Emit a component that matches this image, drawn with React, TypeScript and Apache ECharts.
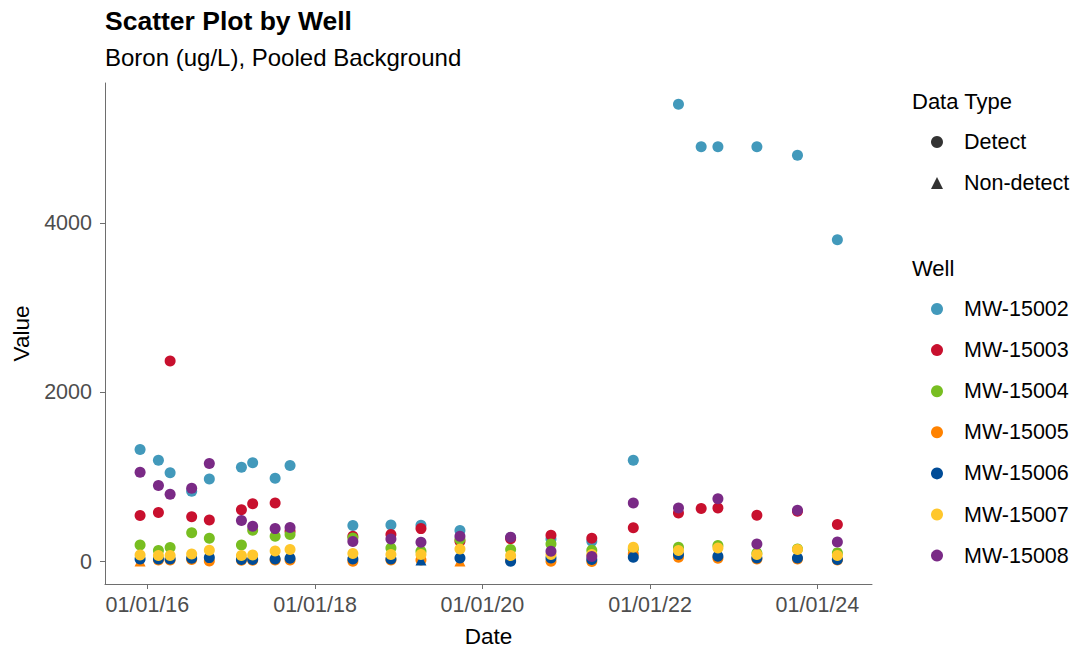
import React, { useEffect, useRef } from 'react';
import * as echarts from 'echarts';

const FONT = '"Liberation Sans", Arial, sans-serif';

const dates = [
  '2015-11-30', '2016-02-18', '2016-04-09', '2016-07-12', '2016-09-27',
  '2017-02-14', '2017-04-04', '2017-07-11', '2017-09-14', '2018-06-15',
  '2018-11-28', '2019-04-08', '2019-09-25', '2020-05-03', '2020-10-26',
  '2021-04-22', '2021-10-20', '2022-05-05', '2022-08-12', '2022-10-24',
  '2023-04-12', '2023-10-06', '2024-03-28',
];

const wells = ['MW-15002', 'MW-15003', 'MW-15004', 'MW-15005', 'MW-15006', 'MW-15007', 'MW-15008'];
const wellColors = ['#4299BB', '#C8102E', '#78BE21', '#FF8200', '#004C97', '#FFC72C', '#7A2A86'];

const mw15002 = [1325, 1199, 1050, 832, 978, 1116, 1168, 986, 1136, 426, 434, 430, 367, 285, 268, 240, 1199, 5410, 4905, 4905, 4905, 4805, 3807];
const mw15003 = [544, 580, 2371, 529, 493, 612, 683, 694, 359, 300, 320, 390, 240, 270, 312, 276, 399, 576, 627, 635, 548, 595, 438];
const mw15004 = [197, 130, 166, 340, 276, 197, 371, 300, 320, 280, 162, 122, 260, 142, 209, 134, 150, 170, null, 189, 100, 150, 103];
const mw15005 = [8, 20, 20, 25, 8, 15, 15, 20, 20, 5, 20, 20, 8, 15, 5, 2, 91, 52, null, 40, 30, 30, 20];
const mw15006 = [32, 32, 32, 39, 47, 24, 24, 32, 39, 32, 32, 20, 43, 5, 43, 24, 51, 83, null, 63, 43, 43, 24];
const mw15007 = [79, 71, 71, 91, 134, 71, 79, 126, 142, 95, 83, 83, 150, 71, 83, 83, 170, 130, null, 162, 83, 142, 71];
const mw15008 = [1057, 899, 797, 868, 1160, 485, 418, 390, 402, 237, 268, 229, 300, 288, 122, 59, 694, 635, null, 742, 209, 607, 233];

const wellValues = [mw15002, mw15003, mw15004, mw15005, mw15006, mw15007, mw15008];

// indices (into dates) of non-detect results, per well
const nonDetects: Record<string, number[]> = {
  'MW-15005': [0, 12],
  'MW-15006': [11],
};

const dataTypes = ['Detect', 'Non-detect'];
const xTickDates = ['2016-01-01', '2018-01-01', '2020-01-01', '2022-01-01', '2024-01-01'];
const yTickValues = [0, 2000, 4000];

const toTime = (s: string) => new Date(s + 'T00:00:00').getTime();
const pad2 = (n: number) => (n < 10 ? '0' + n : '' + n);
const fmtDate = (t: number) => {
  const d = new Date(t);
  return pad2(d.getMonth() + 1) + '/' + pad2(d.getDate()) + '/' + pad2(d.getFullYear() % 100);
};

export default function App() {
  const ref = useRef<HTMLDivElement>(null);

  useEffect(() => {
    if (!ref.current) return;
    const chart = echarts.init(ref.current, null, { renderer: 'svg' });

    const wellSeries = wells.map((w, i) => {
      const nd = nonDetects[w] || [];
      const data: any[] = [];
      wellValues[i].forEach((v, j) => {
        if (v === null || v === undefined) return;
        data.push({ value: [toTime(dates[j]), v], symbol: nd.includes(j) ? 'triangle' : 'circle' });
      });
      return {
        type: 'scatter',
        name: w,
        symbolSize: 11,
        itemStyle: { color: wellColors[i], opacity: 1 },
        emphasis: { disabled: true },
        data,
      };
    });

    const dummySeries = dataTypes.map((t, i) => ({
      type: 'scatter',
      name: t,
      symbol: i === 0 ? 'circle' : 'triangle',
      itemStyle: { color: '#000' },
      data: [],
    }));

    const legendText = {
      rich: {
        t: { fontSize: 21.5, fontFamily: FONT, color: '#000', padding: [0, 0, 0, 16], lineHeight: 24 },
      },
    };

    const axisLineStyle = { color: '#6e6e6e', width: 1 };

    chart.setOption({
      animation: false,
      backgroundColor: '#ffffff',
      textStyle: { fontFamily: FONT },
      grid: { left: 105, right: 204, top: 83, bottom: 70, containLabel: false },
      xAxis: {
        type: 'value',
        min: toTime('2015-06-30'),
        max: toTime('2024-08-26'),
        name: 'Date',
        nameLocation: 'middle',
        nameGap: 41,
        nameTextStyle: { fontSize: 22.5, color: '#000', fontFamily: FONT },
        splitLine: { show: false },
        axisLine: { show: true, onZero: false, lineStyle: axisLineStyle },
        axisTick: { show: true, length: 5, lineStyle: axisLineStyle, customValues: xTickDates.map(toTime) },
        axisLabel: {
          fontSize: 21.5,
          color: '#4d4d4d',
          fontFamily: FONT,
          margin: 10,
          customValues: xTickDates.map(toTime),
          formatter: (v: number) => fmtDate(v),
        },
      },
      yAxis: {
        type: 'value',
        min: -265,
        max: 5660,
        name: 'Value',
        nameLocation: 'middle',
        nameGap: 72,
        nameTextStyle: { fontSize: 22.5, color: '#000', fontFamily: FONT },
        splitLine: { show: false },
        axisLine: { show: true, onZero: false, lineStyle: axisLineStyle },
        axisTick: { show: true, length: 5, lineStyle: axisLineStyle, customValues: yTickValues },
        axisLabel: {
          fontSize: 21.5,
          color: '#4d4d4d',
          fontFamily: FONT,
          margin: 13,
          customValues: yTickValues,
          formatter: (v: number) => String(v),
        },
      },
      legend: [
        {
          data: dataTypes.map((t, i) => ({ name: t, icon: i === 0 ? 'circle' : 'triangle' })),
          orient: 'vertical',
          left: 926,
          top: 126,
          itemWidth: 12,
          itemHeight: 12,
          itemGap: 19,
          selectedMode: false,
          formatter: '{t|{name}}',
          textStyle: legendText,
        },
        {
          data: wells.map((w) => ({ name: w, icon: 'circle' })),
          orient: 'vertical',
          left: 926,
          top: 293,
          itemWidth: 12,
          itemHeight: 12,
          itemGap: 19.1,
          selectedMode: false,
          formatter: '{t|{name}}',
          textStyle: legendText,
        },
      ],
      graphic: [
        {
          type: 'text',
          x: 105,
          y: 21,
          style: { text: 'Scatter Plot by Well', font: 'bold 26.5px ' + FONT, fill: '#000', verticalAlign: 'middle' },
        },
        {
          type: 'text',
          x: 105,
          y: 57,
          style: { text: 'Boron (ug/L), Pooled Background', font: '24px ' + FONT, fill: '#000', verticalAlign: 'middle' },
        },
        {
          type: 'text',
          x: 912,
          y: 101,
          style: { text: 'Data Type', font: '22px ' + FONT, fill: '#000', verticalAlign: 'middle' },
        },
        {
          type: 'text',
          x: 912,
          y: 268,
          style: { text: 'Well', font: '22px ' + FONT, fill: '#000', verticalAlign: 'middle' },
        },
      ],
      series: [...wellSeries, ...dummySeries],
    });

    return () => chart.dispose();
  }, []);

  return (
    <div
      ref={ref}
      style={{ position: 'fixed', left: 0, top: 0, width: 1076, height: 654, background: '#fff' }}
    />
  );
}
